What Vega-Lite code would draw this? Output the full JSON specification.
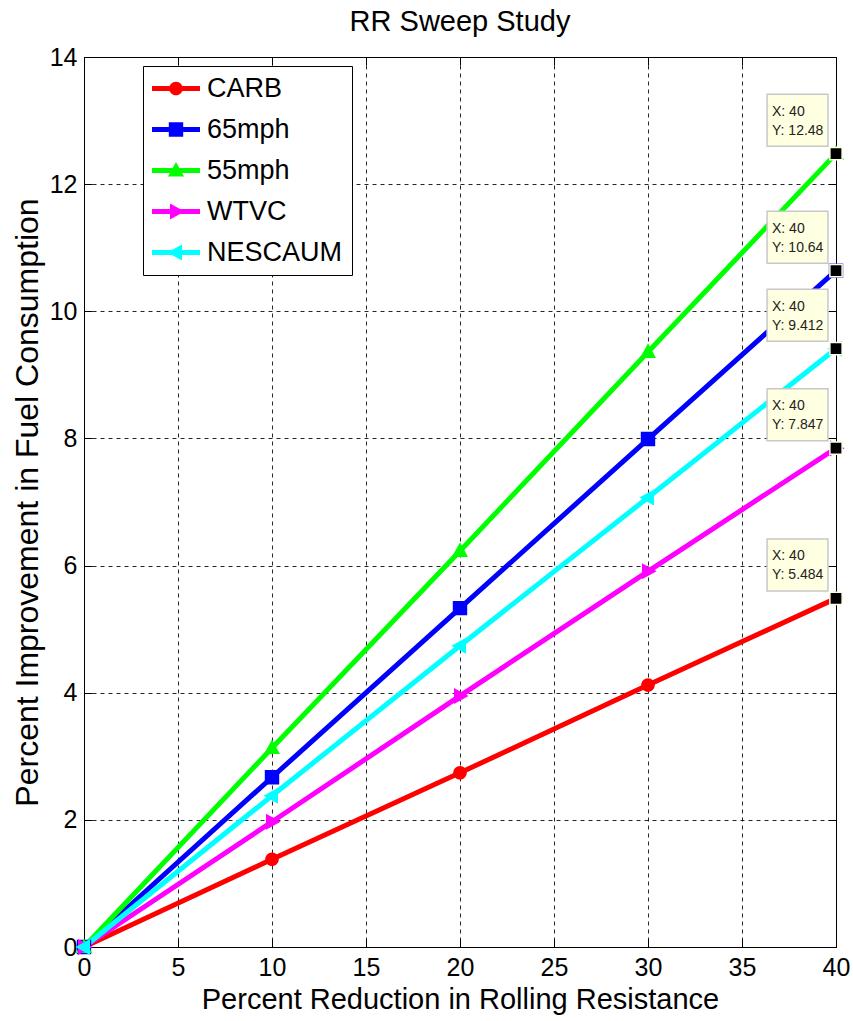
{
  "$schema": "https://vega.github.io/schema/vega-lite/v6.json",
  "width": 752,
  "height": 890,
  "autosize": {"type": "none"},
  "padding": {"left": 84, "top": 57, "right": 17, "bottom": 74},
  "background": "white",
  "title": {"text": "RR Sweep Study", "fontSize": 29, "font": "Liberation Sans", "fontWeight": "normal", "color": "black", "offset": 8, "anchor": "middle"},
  "config": {
    "view": {"stroke": "black", "strokeWidth": 1},
    "font": "Liberation Sans"
  },
  "datasets": {
    "series": [
      {"series": "CARB", "x": 0, "y": 0},
      {"series": "CARB", "x": 10, "y": 1.38},
      {"series": "CARB", "x": 20, "y": 2.74},
      {"series": "CARB", "x": 30, "y": 4.12},
      {"series": "CARB", "x": 40, "y": 5.484},
      {"series": "65mph", "x": 0, "y": 0},
      {"series": "65mph", "x": 10, "y": 2.67},
      {"series": "65mph", "x": 20, "y": 5.33},
      {"series": "65mph", "x": 30, "y": 7.99},
      {"series": "65mph", "x": 40, "y": 10.64},
      {"series": "55mph", "x": 0, "y": 0},
      {"series": "55mph", "x": 10, "y": 3.13},
      {"series": "55mph", "x": 20, "y": 6.23},
      {"series": "55mph", "x": 30, "y": 9.36},
      {"series": "55mph", "x": 40, "y": 12.48},
      {"series": "WTVC", "x": 0, "y": 0},
      {"series": "WTVC", "x": 10, "y": 1.97},
      {"series": "WTVC", "x": 20, "y": 3.95},
      {"series": "WTVC", "x": 30, "y": 5.91},
      {"series": "WTVC", "x": 40, "y": 7.847},
      {"series": "NESCAUM", "x": 0, "y": 0},
      {"series": "NESCAUM", "x": 10, "y": 2.38},
      {"series": "NESCAUM", "x": 20, "y": 4.74},
      {"series": "NESCAUM", "x": 30, "y": 7.07},
      {"series": "NESCAUM", "x": 40, "y": 9.412}
    ],
    "tips": [
      {"series": "55mph", "x": 40, "y": 12.48, "label": "X: 40\nY: 12.48"},
      {"series": "65mph", "x": 40, "y": 10.64, "label": "X: 40\nY: 10.64"},
      {"series": "NESCAUM", "x": 40, "y": 9.412, "label": "X: 40\nY: 9.412"},
      {"series": "WTVC", "x": 40, "y": 7.847, "label": "X: 40\nY: 7.847"},
      {"series": "CARB", "x": 40, "y": 5.484, "label": "X: 40\nY: 5.484"}
    ]
  },
  "resolve": {"axis": {"x": "independent", "y": "independent"}},
  "layer": [
    {
      "data": {"name": "series"},
      "mark": {"type": "line", "strokeWidth": 5},
      "encoding": {
        "x": {"field": "x", "type": "quantitative", "scale": {"domain": [0, 40], "nice": false},
          "axis": {"values": [0, 5, 10, 15, 20, 25, 30, 35, 40], "title": "Percent Reduction in Rolling Resistance",
            "titleFontSize": 29, "titleFontWeight": "normal", "titleColor": "black", "titlePadding": 5, "titleFont": "Liberation Sans",
            "labelFontSize": 25, "labelColor": "black", "labelFont": "Liberation Sans", "labelPadding": 16, "labelFlush": false, "labelOverlap": false,
            "tickSize": -8, "tickColor": "black", "domainColor": "black",
            "grid": true, "gridColor": "black", "gridDash": [4, 4], "gridOpacity": 0.85, "gridWidth": 1}},
        "y": {"field": "y", "type": "quantitative", "scale": {"domain": [0, 14], "nice": false},
          "axis": {"values": [0, 2, 4, 6, 8, 10, 12, 14], "title": "Percent Improvement in Fuel Consumption",
            "titleFontSize": 32, "titleFontWeight": "normal", "titleColor": "black", "titlePadding": 5, "titleFont": "Liberation Sans",
            "labelFontSize": 25, "labelColor": "black", "labelFont": "Liberation Sans", "labelPadding": 15, "labelFlush": false, "labelOverlap": false,
            "tickSize": -8, "tickColor": "black", "domainColor": "black",
            "grid": true, "gridColor": "black", "gridDash": [4, 4], "gridOpacity": 0.85, "gridWidth": 1}},
        "stroke": {"field": "series", "type": "nominal", "sort": null,
          "scale": {"range": ["#FF0000", "#0000FF", "#00FF00", "#FF00FF", "#00FFFF"]},
          "legend": {"title": null, "orient": "none", "legendX": 59, "legendY": 9, "direction": "vertical",
            "labelFontSize": 27, "labelFont": "Liberation Sans", "labelColor": "black", "labelLimit": 300,
            "symbolType": "M-2.4,0H2.4", "symbolSize": 400, "symbolStrokeWidth": 5, "symbolFillColor": "transparent",
            "symbolOffset": 10.5, "labelOffset": 17.5, "rowPadding": 13,
            "padding": 9, "strokeColor": "black", "fillColor": "white"}
        }
      }
    },
    {
      "data": {"name": "series"},
      "mark": {"type": "point", "filled": true, "size": 400, "opacity": 1},
      "encoding": {
        "x": {"field": "x", "type": "quantitative", "axis": null},
        "y": {"field": "y", "type": "quantitative", "axis": null},
        "color": {"field": "series", "type": "nominal",
          "scale": {"domain": ["CARB", "65mph", "55mph", "WTVC", "NESCAUM"], "range": ["#FF0000", "#0000FF", "#00FF00", "#FF00FF", "#00FFFF"]},
          "legend": {"title": null, "orient": "none", "legendX": 59, "legendY": 9, "direction": "vertical",
            "labelFontSize": 27, "labelFont": "Liberation Sans", "labelOpacity": 0, "labelLimit": 300,
            "symbolSize": 400, "symbolStrokeWidth": 0, "symbolOffset": 10.5, "labelOffset": 17.5, "rowPadding": 13,
            "padding": 9, "strokeColor": "transparent", "fillColor": "transparent"}},
        "shape": {"field": "series", "type": "nominal",
          "scale": {"domain": ["CARB", "65mph", "55mph", "WTVC", "NESCAUM"],
            "range": [
              "M-2.4,0H2.4M-0.68,0A0.68,0.68,0,1,1,0.68,0A0.68,0.68,0,1,1,-0.68,0Z",
              "M-2.4,0H2.4M-0.72,-0.72H0.72V0.72H-0.72Z",
              "M-2.4,0H2.4M0,-0.86L0.8,0.6H-0.8Z",
              "M-2.4,0H2.4M0.86,0L-0.6,0.8V-0.8Z",
              "M-2.4,0H2.4M-0.86,0L0.6,-0.8V0.8Z"
            ]},
          "legend": {"title": null, "orient": "none", "legendX": 59, "legendY": 9, "direction": "vertical",
            "labelFontSize": 27, "labelFont": "Liberation Sans", "labelOpacity": 0, "labelLimit": 300,
            "symbolSize": 400, "symbolStrokeWidth": 0, "symbolOffset": 10.5, "labelOffset": 17.5, "rowPadding": 13,
            "padding": 9, "strokeColor": "transparent", "fillColor": "transparent"}}
      }
    },
    {
      "data": {"name": "tips"},
      "mark": {"type": "point", "shape": "M-1.17,-1H1.17V1H-1.17Z", "size": 2704, "filled": true, "fill": "#FFFFE1", "stroke": "#C8C8C8", "strokeWidth": 1.5, "opacity": 1, "xOffset": -38.5, "yOffset": -33.4},
      "encoding": {
        "x": {"field": "x", "type": "quantitative", "axis": null},
        "y": {"field": "y", "type": "quantitative", "axis": null}
      }
    },
    {
      "data": {"name": "tips"},
      "mark": {"type": "point", "shape": "square", "size": 150, "filled": true, "fill": "black", "stroke": "#FFFFE1", "strokeWidth": 1.5, "opacity": 1},
      "encoding": {
        "x": {"field": "x", "type": "quantitative", "axis": null},
        "y": {"field": "y", "type": "quantitative", "axis": null}
      }
    },
    {
      "data": {"name": "tips"},
      "mark": {"type": "text", "lineBreak": "\n", "align": "left", "baseline": "middle", "dx": -64, "dy": -42, "fontSize": 14, "lineHeight": 19, "font": "Liberation Sans", "color": "#222222"},
      "encoding": {
        "x": {"field": "x", "type": "quantitative",
          "axis": {"orient": "top", "values": [0, 5, 10, 15, 20, 25, 30, 35, 40], "labels": false, "title": null, "domain": false, "grid": false, "ticks": true, "tickSize": -8, "tickColor": "black"}},
        "y": {"field": "y", "type": "quantitative",
          "axis": {"orient": "right", "values": [0, 2, 4, 6, 8, 10, 12, 14], "labels": false, "title": null, "domain": false, "grid": false, "ticks": true, "tickSize": -8, "tickColor": "black"}},
        "text": {"field": "label", "type": "nominal"}
      }
    }
  ]
}
